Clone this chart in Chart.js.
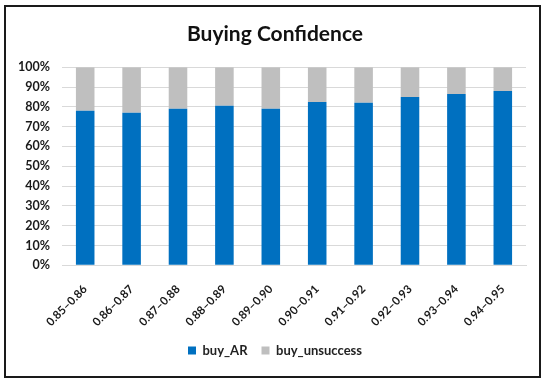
<!DOCTYPE html>
<html>
<head>
<meta charset="utf-8">
<script src="https://cdn.jsdelivr.net/npm/chart.js@4"></script>
<style>
html,body{margin:0;padding:0;background:#fff;}
#wrap{position:absolute;left:0;top:0;width:550px;height:385px;}
</style>
</head>
<body>
<div id="wrap"><canvas id="c" width="550" height="385"></canvas></div>
<script>
const categories = ["0.85–0.86","0.86–0.87","0.87–0.88","0.88–0.89","0.89–0.90","0.90–0.91","0.91–0.92","0.92–0.93","0.93–0.94","0.94–0.95"];
const buyAR = [78, 77, 79, 80.5, 79, 82.5, 82, 85, 86.5, 88];
const buyUnsuccess = [22, 23, 21, 19.5, 21, 17.5, 18, 15, 13.5, 12];
const yTicks = [0,10,20,30,40,50,60,70,80,90,100];

const FONT = "Lato, 'Liberation Sans', sans-serif";

const frame = {
  id: 'frame',
  beforeDraw(chart) {
    const ctx = chart.ctx;
    ctx.save();
    ctx.fillStyle = '#fff';
    ctx.fillRect(0, 0, chart.width, chart.height);
    ctx.restore();
  },
  afterDraw(chart) {
    const ctx = chart.ctx;
    ctx.save();
    ctx.strokeStyle = '#1a1a1a';
    ctx.lineWidth = 2;
    ctx.strokeRect(5, 6, 535, 371);
    ctx.restore();
  }
};

new Chart(document.getElementById('c'), {
  type: 'bar',
  data: {
    labels: categories,
    datasets: [
      { label: 'buy_AR', data: buyAR, backgroundColor: '#0070C0', barPercentage: 0.8, categoryPercentage: 0.5 },
      { label: 'buy_unsuccess', data: buyUnsuccess, backgroundColor: '#BFBFBF', barPercentage: 0.8, categoryPercentage: 0.5 }
    ]
  },
  options: {
    responsive: false,
    animation: false,
    devicePixelRatio: 1,
    layout: { padding: { left: 24, right: 24, top: 18, bottom: 18 } },
    plugins: {
      title: {
        display: true,
        text: 'Buying Confidence',
        color: '#111',
        font: { family: FONT, size: 21, weight: 'bold' },
        padding: { top: 4, bottom: 20 }
      },
      legend: {
        position: 'bottom',
        labels: {
          color: '#222',
          font: { family: FONT, size: 13, weight: 'bold' },
          boxWidth: 8, boxHeight: 8, padding: 14
        }
      },
      tooltip: { enabled: false }
    },
    scales: {
      x: {
        stacked: true,
        grid: { display: false, drawTicks: false },
        border: { display: true, color: '#d9d9d9' },
        ticks: {
          color: '#1a1a1a',
          font: { family: FONT, size: 11.5, weight: 'bold' },
          minRotation: 45, maxRotation: 45, padding: 17
        },
        afterFit(scale) {
          scale.paddingLeft = 0;
          scale.paddingRight = 0;
          scale.height -= 16;
        }
      },
      y: {
        stacked: true,
        min: 0, max: 100,
        afterBuildTicks(scale) { scale.ticks = yTicks.map(v => ({ value: v })); },
        afterFit(scale) {
          scale.width = 38;
          scale._computeLabelArea = function () { return undefined; };
        },
        grid: { color: '#d9d9d9', drawTicks: false },
        border: { display: false },
        ticks: {
          color: '#1a1a1a',
          font: { family: FONT, size: 12.5, weight: 'bold' },
          padding: 12,
          callback: v => v + '%'
        }
      }
    }
  },
  plugins: [frame]
});
</script>
</body>
</html>
